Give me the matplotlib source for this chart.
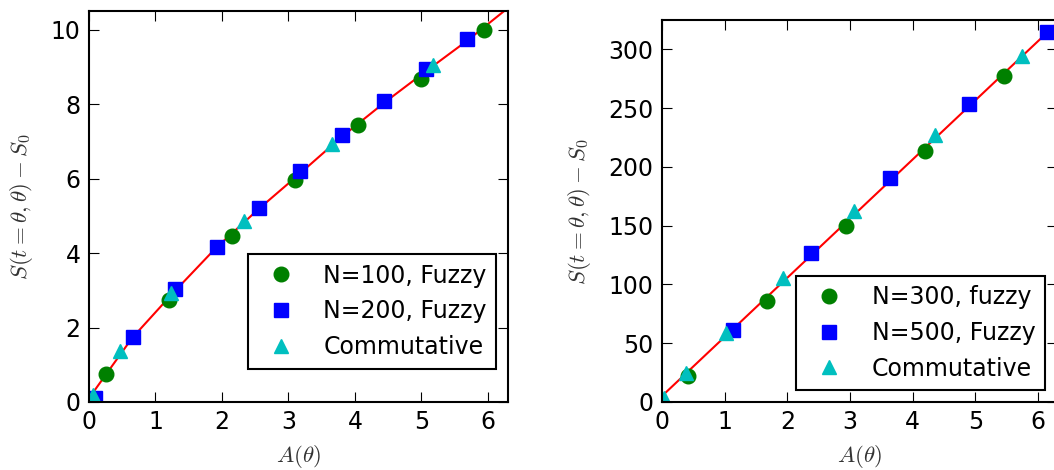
import matplotlib
matplotlib.use('Agg')
import matplotlib.pyplot as plt

# left panel: N=100 / N=200
l_green_x = [0.26, 1.21, 2.15, 3.10, 4.05, 4.99, 5.94]
l_green_y = [0.74, 2.73, 4.47, 5.95, 7.43, 8.67, 9.99]
l_blue_x = [0.09, 0.66, 1.30, 1.93, 2.55, 3.18, 3.81, 4.44, 5.07, 5.68]
l_blue_y = [0.10, 1.74, 3.03, 4.16, 5.20, 6.20, 7.16, 8.08, 8.94, 9.74]
l_cyan_x = [0.06, 0.47, 1.24, 2.33, 3.66, 5.17]
l_cyan_y = [0.20, 1.37, 2.93, 4.86, 6.92, 9.04]
l_fit_x = [0, 0.3, 0.65, 1.25, 1.9, 2.55, 3.15, 3.8, 4.45, 5.05, 5.7, 6.3]
l_fit_y = [0.1, 0.85, 1.72, 2.9, 4.12, 5.18, 6.1, 7.12, 8.05, 8.86, 9.72, 10.58]

# right panel: N=300 / N=500
r_green_x = [0.41, 1.68, 2.94, 4.20, 5.46]
r_green_y = [21.8, 86.1, 150.1, 213.9, 277.0]
r_blue_x = [1.13, 2.38, 3.64, 4.90, 6.15]
r_blue_y = [61.4, 126.6, 190.4, 253.8, 315.0]
r_cyan_x = [0.03, 0.39, 1.03, 1.93, 3.06, 4.35, 5.75]
r_cyan_y = [3.0, 24.6, 58.6, 105.4, 162.3, 227.2, 294.3]
r_fit_x = [0, 6.3]
r_fit_y = [5, 322]

plt.rcParams['mathtext.fontset'] = 'cm'
plt.rcParams['font.size'] = 17
plt.rcParams['xtick.direction'] = 'in'
plt.rcParams['ytick.direction'] = 'in'
plt.rcParams['xtick.top'] = True
plt.rcParams['ytick.right'] = True
plt.rcParams['xtick.major.size'] = 7
plt.rcParams['ytick.major.size'] = 7
plt.rcParams['xtick.major.pad'] = 6
plt.rcParams['ytick.major.pad'] = 6
plt.rcParams['axes.linewidth'] = 1.5

fig = plt.figure(figsize=(10.54, 4.70), dpi=100)
ax1 = fig.add_axes([0.0844, 0.1447, 0.3975, 0.8319])
ax2 = fig.add_axes([0.628, 0.1447, 0.3746, 0.8128])


def panel(ax, fx, fy, gx, gy, bx, by, cx, cy, labels):
    ax.plot(fx, fy, color='r', lw=1.5)
    ax.plot(gx, gy, 'o', color='g', mec='g', ms=10.5, label=labels[0])
    ax.plot(bx, by, 's', color='b', mec='b', ms=10, label=labels[1])
    ax.plot(cx, cy, '^', color='c', mec='c', ms=10, label=labels[2])
    ax.set_xlabel(r'$A(\theta)$', fontsize=16.5, color='#333333', labelpad=6)
    ax.set_ylabel(r'$S(t=\theta,\theta)-S_0$', fontsize=16.5, color='#333333',
                  labelpad=11)


panel(ax1, l_fit_x, l_fit_y, l_green_x, l_green_y, l_blue_x, l_blue_y,
      l_cyan_x, l_cyan_y, ['N=100, Fuzzy', 'N=200, Fuzzy', 'Commutative'])
panel(ax2, r_fit_x, r_fit_y, r_green_x, r_green_y, r_blue_x, r_blue_y,
      r_cyan_x, r_cyan_y, ['N=300, fuzzy', 'N=500, Fuzzy', 'Commutative'])

ax1.set_xlim(0, 6.3)
ax1.set_ylim(0, 10.5)
ax1.set_yticks([0, 2, 4, 6, 8, 10])
ax2.set_xlim(0, 6.3)
ax2.set_ylim(0, 325)
ax2.set_yticks([0, 50, 100, 150, 200, 250, 300])
for ax in (ax1, ax2):
    ax.set_xticks([0, 1, 2, 3, 4, 5, 6])

leg_kw = dict(numpoints=1, fancybox=False, framealpha=1, edgecolor='k',
              handlelength=2, handletextpad=0.8, borderpad=0.4,
              labelspacing=0.5, fontsize=17)
lg1 = ax1.legend(loc='lower right', bbox_to_anchor=(1.0, 0.055), **leg_kw)
lg2 = ax2.legend(loc='lower right', **leg_kw)
for lg in (lg1, lg2):
    lg.get_frame().set_linewidth(1.5)

fig.savefig('out.png', dpi=100)
